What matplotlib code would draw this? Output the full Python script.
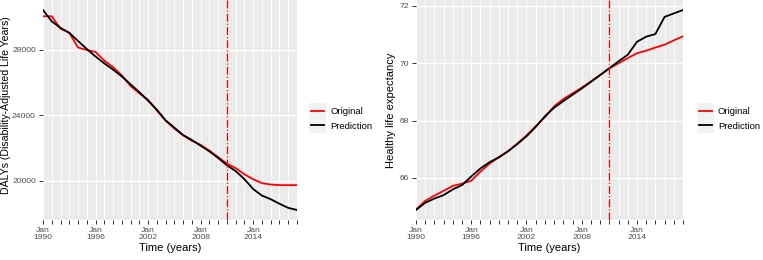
import numpy as np
import pandas as pd
import matplotlib
matplotlib.use('Agg')
import matplotlib.pyplot as plt
import matplotlib.dates as mdates
from matplotlib.lines import Line2D
from matplotlib.patches import Rectangle

plt.rcParams['font.family'] = ['Liberation Sans', 'DejaVu Sans']

years = list(range(1990, 2020))

daly_original = [30060, 30060, 29300, 29050, 28150, 28000, 27880, 27350, 26950, 26450,
                 25800, 25350, 24950, 24300, 23680, 23200, 22780, 22450, 22200, 21850,
                 21450, 21050, 20780, 20400, 20100, 19860, 19780, 19740, 19740, 19740]
daly_prediction = [30443, 29750, 29350, 29050, 28550, 28060, 27600, 27180, 26800, 26380,
                   25900, 25420, 24900, 24350, 23700, 23250, 22800, 22500, 22150, 21800,
                   21400, 20950, 20600, 20100, 19500, 19100, 18880, 18600, 18350, 18220]

hle_original = [64.90, 65.20, 65.38, 65.55, 65.72, 65.80, 65.90, 66.22, 66.50, 66.72,
                66.93, 67.20, 67.48, 67.80, 68.12, 68.50, 68.75, 68.95, 69.15, 69.37,
                69.59, 69.82, 70.00, 70.18, 70.35, 70.44, 70.55, 70.65, 70.80, 70.94]
hle_prediction = [64.88, 65.13, 65.28, 65.40, 65.60, 65.75, 66.05, 66.33, 66.55, 66.72,
                  66.93, 67.18, 67.45, 67.78, 68.15, 68.45, 68.68, 68.90, 69.12, 69.35,
                  69.59, 69.83, 70.07, 70.30, 70.75, 70.93, 71.02, 71.62, 71.74, 71.86]

cutoff_year = 2011
label_years = [1990, 1996, 2002, 2008, 2014]
daly_ticks = [20000, 24000, 28000]
hle_ticks = [66, 68, 70, 72]

time = pd.to_datetime([f'{y}-01-01' for y in years])
major_dates = mdates.date2num(pd.to_datetime([f'{y}-01-01' for y in label_years]))
minor_dates = mdates.date2num(time)


def style_panel(ax, yticks, ylabel, ylabel_fs, ylabel_x, ylabel_y):
    ax.set_facecolor('#EBEBEB')
    for s in ax.spines.values():
        s.set_visible(False)
    ax.set_xticks(major_dates)
    ax.set_xticks(minor_dates, minor=True)
    ax.set_xticklabels([f'Jan\n{y}' for y in label_years], linespacing=1.0)
    ax.set_yticks(yticks)
    ax.grid(which='minor', axis='x', color='white', lw=0.6)
    ax.grid(which='major', axis='x', color='white', lw=0.6)
    ax.grid(which='major', axis='y', color='white', lw=1.0)
    ax.set_axisbelow(True)
    ax.tick_params(which='both', color='#333333', length=3, width=0.7,
                   labelsize=6.1, labelcolor='#4D4D4D', pad=2.2)
    ax.set_xlim(time[0], time[-1])
    ax.set_xlabel('Time (years)', fontsize=8, labelpad=1)
    ax.set_ylabel(ylabel, fontsize=ylabel_fs)
    ax.yaxis.set_label_coords(ylabel_x, ylabel_y)


fig = plt.figure(figsize=(7.63, 2.6), dpi=100)
ax1 = fig.add_axes([43 / 763, 40 / 260, 254 / 763, 220 / 260])
ax2 = fig.add_axes([416 / 763, 40 / 260, 267 / 763, 220 / 260])

#DALYs
ax1.plot(time, daly_original, color='#FF0000', lw=1.3)
ax1.plot(time, daly_prediction, color='black', lw=1.3)
lo, hi = min(daly_original + daly_prediction), max(daly_original + daly_prediction)
ax1.set_ylim(lo - 0.05 * (hi - lo), hi + 0.05 * (hi - lo))
ax1.axvline(pd.Timestamp(f'{cutoff_year}-01-01'), color='#FF0000', ls='-.', lw=0.9, zorder=3)
style_panel(ax1, daly_ticks, 'DALYs (Disability-Adjusted Life Years)', 7.6, -0.125, 0.52)

#healthy life expectancy
ax2.plot(time, hle_original, color='#FF0000', lw=1.3)
ax2.plot(time, hle_prediction, color='black', lw=1.3)
lo, hi = min(hle_original + hle_prediction), max(hle_original + hle_prediction)
ax2.set_ylim(lo - 0.05 * (hi - lo), hi + 0.05 * (hi - lo))
ax2.axvline(pd.Timestamp(f'{cutoff_year}-01-01'), color='#FF0000', ls='-.', lw=0.9, zorder=3)
style_panel(ax2, hle_ticks, 'Healthy life expectancy', 8, -0.075, 0.5)

handles = [Line2D([], [], color='#FF0000', lw=1.3), Line2D([], [], color='black', lw=1.3)]
legends = []
for ax, x in [(ax1, 1.03), (ax2, 1.035)]:
    leg = ax.legend(handles, ['Original', 'Prediction'], loc='center left',
                    bbox_to_anchor=(x, 0.46), frameon=False, fontsize=6.8,
                    handlelength=1.4, handletextpad=0.6, labelspacing=0.6,
                    borderaxespad=0.3)
    legends.append(leg)

# grey key background like ggplot legend keys
fig.canvas.draw()
inv = fig.transFigure.inverted()
for leg in legends:
    boxes = [h.get_window_extent() for h in leg.legend_handles]
    x0 = min(b.x0 for b in boxes) - 2
    x1 = max(b.x1 for b in boxes) + 2
    y0 = min(b.y0 for b in boxes) - 8
    y1 = max(b.y1 for b in boxes) + 8
    (fx0, fy0), (fx1, fy1) = inv.transform([(x0, y0), (x1, y1)])
    fig.add_artist(Rectangle((fx0, fy0), fx1 - fx0, fy1 - fy0, transform=fig.transFigure,
                             facecolor='#F2F2F2', edgecolor='none', zorder=0))

fig.savefig('out.png', dpi=100)
